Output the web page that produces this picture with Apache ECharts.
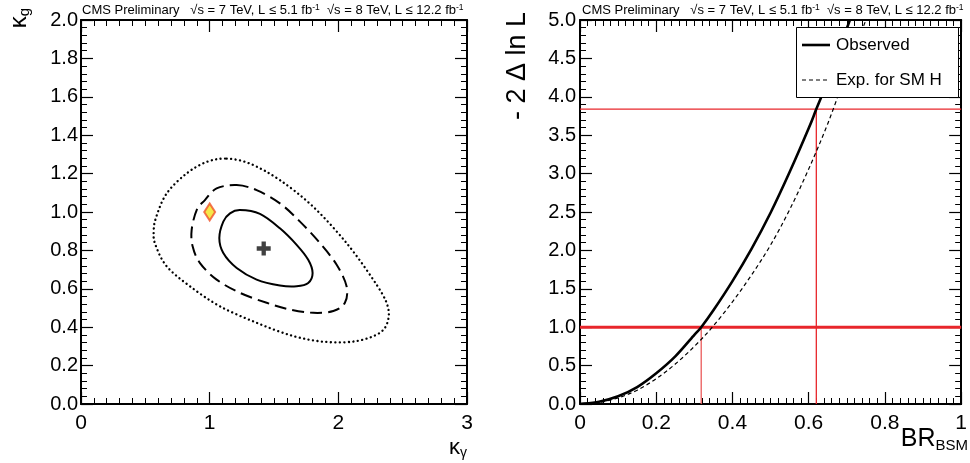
<!DOCTYPE html>
<html>
<head>
<meta charset="utf-8">
<script src="https://cdn.jsdelivr.net/npm/echarts@6/dist/echarts.min.js"></script>
<style>
  html, body { margin: 0; padding: 0; background: #fff; }
  #chart { width: 970px; height: 463px; }
</style>
</head>
<body>
<div id="chart"></div>
<script>
// ---- Left panel: likelihood contours in the (kappa_gamma, kappa_g) plane ----
const contour68 = [
  [1.235, 1.010], [1.391, 0.990], [1.546, 0.915], [1.676, 0.829], [1.766, 0.751],
  [1.800, 0.682], [1.766, 0.630], [1.676, 0.613], [1.546, 0.617], [1.365, 0.648],
  [1.210, 0.708], [1.106, 0.786], [1.075, 0.864], [1.106, 0.950], [1.158, 0.993]
];
const contour95 = [
  [1.210, 1.140], [1.365, 1.114], [1.546, 1.045], [1.702, 0.950], [1.857, 0.838],
  [1.987, 0.725], [2.064, 0.613], [2.051, 0.527], [1.961, 0.484], [1.805, 0.475],
  [1.624, 0.492], [1.443, 0.527], [1.235, 0.579], [1.054, 0.648], [0.925, 0.734],
  [0.868, 0.820], [0.860, 0.907], [0.899, 1.010], [0.963, 1.062], [1.054, 1.123]
];
const contour997 = [
  [1.132, 1.278], [1.313, 1.252], [1.546, 1.166], [1.805, 1.027], [2.064, 0.838],
  [2.271, 0.648], [2.375, 0.527], [2.388, 0.440], [2.323, 0.371], [2.142, 0.328],
  [1.909, 0.323], [1.650, 0.354], [1.365, 0.423], [1.080, 0.509], [0.847, 0.613],
  [0.666, 0.717], [0.578, 0.830], [0.565, 0.900], [0.585, 0.975], [0.666, 1.097],
  [0.821, 1.201], [0.977, 1.261]
];
const bestFit = [1.42, 0.81];
const smPoint = [1.0, 1.0];

// ---- Right panel: -2 delta lnL versus BR_BSM ----
const brObs  = [0, 0.05, 0.10, 0.15, 0.20, 0.25, 0.30, 0.318, 0.35, 0.40, 0.45, 0.50, 0.55, 0.60, 0.62, 0.65, 0.70, 0.708];
const nllObs = [0, 0.03, 0.10, 0.22, 0.40, 0.62, 0.90, 1.00, 1.22, 1.60, 2.02, 2.49, 3.02, 3.59, 3.84, 4.21, 4.89, 5.00];
const brExp  = [0, 0.05, 0.10, 0.15, 0.20, 0.25, 0.30, 0.347, 0.40, 0.45, 0.50, 0.55, 0.60, 0.65, 0.70, 0.75];
const nllExp = [0, 0.02, 0.08, 0.18, 0.33, 0.52, 0.75, 1.00, 1.33, 1.68, 2.07, 2.53, 3.06, 3.65, 4.33, 5.00];
const level68 = 1.0;    // 68% CL threshold
const level95 = 3.84;   // 95% CL threshold
const brAt68 = 0.318;   // observed crossing of level68
const brAt95 = 0.62;    // observed crossing of level95

// Axis ranges / tick steps
const leftX  = { min: 0, max: 3, step: 1,   minor: 10 };
const leftY  = { min: 0, max: 2, step: 0.2, minor: 5 };
const rightX = { min: 0, max: 1, step: 0.2, minor: 10 };
const rightY = { min: 0, max: 5, step: 0.5, minor: 5 };

const FONT = "'Liberation Sans', Arial, Helvetica, sans-serif";
const INK = '#000';
const RED = '#e8262b';

function axis(range, gridIndex, position, showLabels, fmt, labelSize, margin) {
  return {
    type: 'value', gridIndex, position,
    min: range.min, max: range.max, interval: range.step,
    axisLine: { show: true, onZero: false, lineStyle: { color: INK, width: 2 } },
    axisTick: { show: true, inside: true, length: 12, lineStyle: { color: INK, width: 1.2 } },
    minorTick: { show: true, splitNumber: range.minor, length: 6, lineStyle: { color: INK, width: 1 } },
    splitLine: { show: false },
    axisLabel: {
      show: showLabels, color: INK, fontFamily: FONT, fontSize: labelSize,
      margin: margin, formatter: fmt, showMinLabel: true, showMaxLabel: true
    }
  };
}
const fmtInt = v => String(Math.round(v));
const fmt1 = v => v.toFixed(1);
const fmtBR = v => (v === 0 || v === 1) ? String(v) : String(+v.toFixed(1));

// Catmull-Rom spline through pixel points, written as cubic Bezier path data
function splinePath(pts, closed) {
  const n = pts.length;
  const at = i => closed ? pts[(i + n) % n] : pts[Math.max(0, Math.min(n - 1, i))];
  let d = 'M' + pts[0][0] + ',' + pts[0][1];
  const segs = closed ? n : n - 1;
  for (let i = 0; i < segs; i++) {
    const p0 = at(i - 1), p1 = at(i), p2 = at(i + 1), p3 = at(i + 2);
    const c1 = [p1[0] + (p2[0] - p0[0]) / 6, p1[1] + (p2[1] - p0[1]) / 6];
    const c2 = [p2[0] - (p3[0] - p1[0]) / 6, p2[1] - (p3[1] - p1[1]) / 6];
    d += 'C' + c1[0] + ',' + c1[1] + ' ' + c2[0] + ',' + c2[1] + ' ' + p2[0] + ',' + p2[1];
  }
  if (closed) d += 'Z';
  return d;
}

// A custom series drawing one smooth curve through data-space points
function curveSeries(name, points, closed, xi, yi, lineStyle) {
  return {
    name, type: 'custom', xAxisIndex: xi, yAxisIndex: yi,
    data: [0], silent: true, z: 3,
    renderItem: function (params, api) {
      const px = points.map(p => api.coord(p));
      const cs = params.coordSys;
      return {
        type: 'path',
        shape: { pathData: splinePath(px, closed) },
        style: Object.assign({ fill: 'none', stroke: INK }, lineStyle),
        clipPath: { type: 'rect', shape: { x: cs.x, y: cs.y, width: cs.width, height: cs.height } }
      };
    }
  };
}

const plusPath = 'path://M4.5,0h4v4.5h4.5v4h-4.5v4.5h-4v-4.5h-4.5v-4h4.5z';

const supRich = {
  sup: { fontSize: 8.5, lineHeight: 8, verticalAlign: 'top', fontFamily: FONT, fill: INK }
};
const headerText = 'CMS Preliminary   √s = 7 TeV, L ≤ 5.1 fb{sup|-1}  √s = 8 TeV, L ≤ 12.2 fb{sup|-1}';

const chart = echarts.init(document.getElementById('chart'), null, { renderer: 'canvas' });

const obsPoints = brObs.map((x, i) => [x, nllObs[i]]);
const expPoints = brExp.map((x, i) => [x, nllExp[i]]);

const option = {
  animation: false,
  backgroundColor: '#fff',
  textStyle: { fontFamily: FONT },
  grid: [
    { left: 81, top: 20, width: 386, height: 384 },
    { left: 580, top: 20, width: 388, height: 384 }
  ],
  xAxis: [
    axis(leftX, 0, 'bottom', true, fmtInt, 21, 9),
    axis(leftX, 0, 'top', false, fmtInt, 21, 9),
    axis(rightX, 1, 'bottom', true, fmtBR, 21, 9),
    axis(rightX, 1, 'top', false, fmtBR, 21, 9)
  ],
  yAxis: [
    axis(leftY, 0, 'left', true, fmt1, 20, 3),
    axis(leftY, 0, 'right', false, fmt1, 20, 3),
    axis(rightY, 1, 'left', true, fmt1, 20, 4),
    axis(rightY, 1, 'right', false, fmt1, 20, 4)
  ],
  series: [
    curveSeries('3 sigma', contour997, true, 0, 0, { lineWidth: 2.3, lineDash: [0.1, 4.4], lineCap: 'round' }),
    curveSeries('2 sigma', contour95, true, 0, 0, { lineWidth: 2, lineDash: [12, 6] }),
    curveSeries('1 sigma', contour68, true, 0, 0, { lineWidth: 2 }),
    {
      name: 'best fit', type: 'scatter', xAxisIndex: 0, yAxisIndex: 0,
      data: [bestFit], symbol: plusPath, symbolSize: 14,
      itemStyle: { color: '#111' }, z: 5
    },
    {
      name: 'SM', type: 'scatter', xAxisIndex: 0, yAxisIndex: 0,
      data: [smPoint], symbol: 'diamond', symbolSize: [11, 17],
      itemStyle: { color: '#f2e21c', borderColor: '#f0522a', borderWidth: 2 }, z: 5
    },
    // CL reference lines
    {
      name: 'cl68', type: 'line', xAxisIndex: 2, yAxisIndex: 2, symbol: 'none', silent: true,
      data: [[rightX.min, level68], [rightX.max, level68]],
      lineStyle: { color: RED, width: 3 }, z: 1
    },
    {
      name: 'cl95', type: 'line', xAxisIndex: 2, yAxisIndex: 2, symbol: 'none', silent: true,
      data: [[rightX.min, level95], [rightX.max, level95]],
      lineStyle: { color: RED, width: 1.3 }, z: 1
    },
    {
      name: 'br68', type: 'line', xAxisIndex: 2, yAxisIndex: 2, symbol: 'none', silent: true,
      data: [[brAt68, 0], [brAt68, level68]],
      lineStyle: { color: '#ea5a5a', width: 1.3 }, z: 1
    },
    {
      name: 'br95', type: 'line', xAxisIndex: 2, yAxisIndex: 2, symbol: 'none', silent: true,
      data: [[brAt95, 0], [brAt95, level95]],
      lineStyle: { color: RED, width: 1.3 }, z: 1
    },
    curveSeries('Exp. for SM H', expPoints, false, 2, 2, { lineWidth: 1.2, lineDash: [4, 3] }),
    curveSeries('Observed', obsPoints, false, 2, 2, { lineWidth: 2.6 })
  ],
  graphic: [
    { type: 'text', x: 82, y: 3, style: { text: headerText, rich: supRich, fontSize: 13, lineHeight: 14, fontFamily: FONT, fill: INK } },
    { type: 'text', x: 582, y: 3, style: { text: headerText, rich: supRich, fontSize: 13, lineHeight: 14, fontFamily: FONT, fill: INK } },
    // legend box for the right panel
    { type: 'rect', z: 100, shape: { x: 796.5, y: 27.5, width: 162, height: 70 }, style: { fill: '#fff', stroke: INK, lineWidth: 1 } },
    { type: 'line', z: 101, shape: { x1: 802, y1: 45, x2: 830, y2: 45 }, style: { stroke: INK, lineWidth: 2.6 } },
    { type: 'text', z: 101, x: 836, y: 45, style: { text: 'Observed', fontSize: 17, fontFamily: FONT, fill: INK, verticalAlign: 'middle' } },
    { type: 'line', z: 101, shape: { x1: 802, y1: 80, x2: 830, y2: 80 }, style: { stroke: INK, lineWidth: 1.2, lineDash: [4, 3] } },
    { type: 'text', z: 101, x: 836, y: 80, style: { text: 'Exp. for SM H', fontSize: 17, fontFamily: FONT, fill: INK, verticalAlign: 'middle' } },
    {
      type: 'text', x: 6, y: 8, rotation: Math.PI / 2,
      style: {
        text: 'κ{sub|g}', fontSize: 24, lineHeight: 26, fontFamily: FONT, fill: INK,
        align: 'right', verticalAlign: 'top',
        rich: { sub: { fontSize: 15, lineHeight: 14, verticalAlign: 'bottom', fontFamily: FONT, fill: INK } }
      }
    },
    {
      type: 'text', x: 504, y: 12, rotation: Math.PI / 2,
      style: {
        text: '- 2 Δ ln L', fontSize: 27, fontFamily: FONT, fill: INK,
        align: 'right', verticalAlign: 'top'
      }
    },
    {
      type: 'text', x: 467, y: 436,
      style: {
        text: 'κ{sub|γ}', fontSize: 22, lineHeight: 24, fontFamily: FONT, fill: INK,
        align: 'right', verticalAlign: 'top',
        rich: { sub: { fontSize: 14, lineHeight: 14, verticalAlign: 'bottom', fontFamily: FONT, fill: INK } }
      }
    },
    {
      type: 'text', x: 968, y: 425,
      style: {
        text: 'BR{sub|BSM}', fontSize: 25, lineHeight: 28, fontFamily: FONT, fill: INK,
        align: 'right', verticalAlign: 'top',
        rich: { sub: { fontSize: 15, lineHeight: 14, verticalAlign: 'bottom', fontFamily: FONT, fill: INK } }
      }
    }
  ]
};

chart.setOption(option);
</script>
</body>
</html>
